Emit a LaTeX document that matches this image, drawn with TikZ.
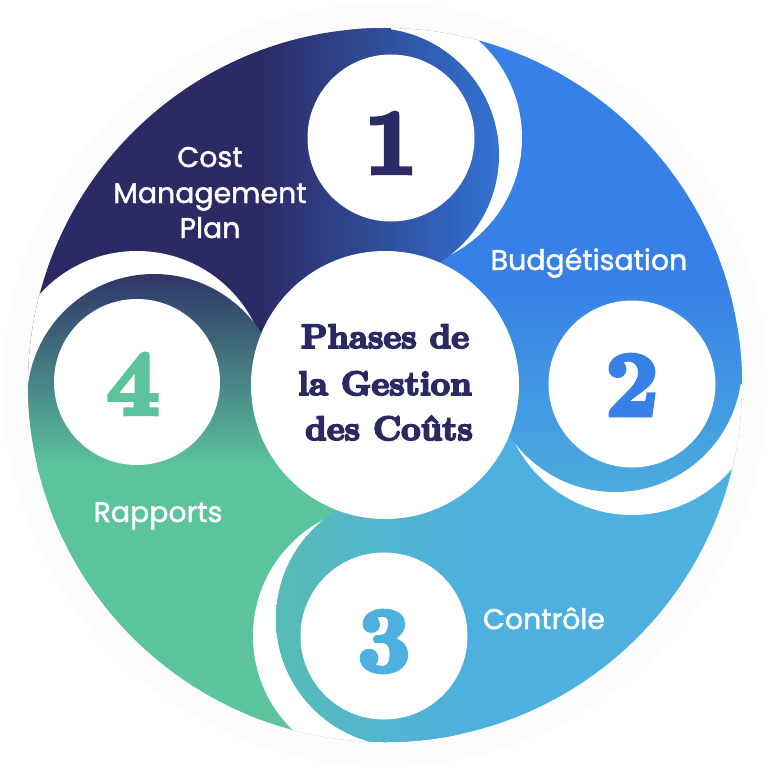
\documentclass[tikz,border=0pt]{standalone}
\usepackage{fontspec}
\newfontfamily\lblfont{Poppins}[FakeBold=1.5]
\newfontfamily\dispfont{lmroman10-bold.otf}[FakeBold=5.5]
\newfontfamily\digfont{lmroman10-bold.otf}[FakeBold=5]
\definecolor{navyA}{HTML}{2C2A64}
\definecolor{blueA}{HTML}{3473D4}
\definecolor{blueB}{HTML}{3780E8}
\definecolor{cyanB}{HTML}{4CADDD}
\definecolor{cyanC}{HTML}{4EB0DE}
\definecolor{tealC}{HTML}{58BCB4}
\definecolor{navyD}{HTML}{2E3266}
\definecolor{greenD}{HTML}{5CC49D}
\definecolor{halo}{RGB}{252,252,252}
\definecolor{inkN}{HTML}{2A2962}
\newcommand\paintSegA{\fill[navyA] (0,0) rectangle (262,768);
  \shade[left color=navyA,right color=blueA] (260,0) rectangle (502,768);
  \fill[blueA] (500,0) rectangle (768,768);}
\newcommand\paintSegB{\fill[blueB] (0,0) rectangle (768,282);
  \shade[top color=blueB,bottom color=cyanB] (0,280) rectangle (768,497);
  \fill[cyanB] (0,495) rectangle (768,768);}
\newcommand\paintSegC{\fill[cyanC] (0,0) rectangle (768,768);
  \fill[tealC] (0,0) rectangle (272,768);
  \shade[left color=tealC,right color=cyanC] (270,0) rectangle (462,768);}
\newcommand\paintSegD{\fill[navyD] (0,0) rectangle (768,272);
  \shade[top color=navyD,bottom color=greenD] (0,270) rectangle (768,467);
  \fill[greenD] (0,465) rectangle (768,768);}
\tikzset{
  lbl/.style={inner sep=0pt,anchor=base,text=white,font=\lblfont\fontsize{28.5}{34}\selectfont},
  digit/.style={inner sep=0pt,anchor=base,font=\digfont\fontsize{92}{92}\selectfont},
  ttl/.style={inner sep=0pt,anchor=base,text=inkN,font=\dispfont\fontsize{34}{40}\selectfont}
}
\begin{document}
\begin{tikzpicture}[x=1bp,y=-1bp]
\useasboundingbox (0,0) rectangle (768,768);
\coordinate (C) at (385,385);
\coordinate (c1) at (391,138);
\coordinate (c2) at (632,384);
\coordinate (c3) at (384,636);
\coordinate (c4) at (137,382);
\coordinate (b1) at (372,155);
\coordinate (b2) at (615,365);
\coordinate (b3) at (403,619);
\coordinate (b4) at (154,401);
% faint halo
\fill[halo] (C) circle[radius=382bp];
\begin{scope}
  \clip (C) circle[radius=357bp];
  % sectors
  \begin{scope}\clip (0,0) rectangle (391,382); \paintSegA \end{scope}
  \begin{scope}\clip (391,0) rectangle (768,384); \paintSegB \end{scope}
  \begin{scope}\clip (384,384) rectangle (768,768); \paintSegC \end{scope}
  \begin{scope}\clip (0,382) rectangle (384,768); \paintSegD \end{scope}
  % white gaps on the leading side of each bulge
  \begin{scope}\clip (391,0) rectangle (768,384); \fill[white] (c1) circle[radius=131bp]; \end{scope}
  \begin{scope}\clip (384,384) rectangle (768,768); \fill[white] (c2) circle[radius=131bp]; \end{scope}
  \begin{scope}\clip (0,384) rectangle (384,768); \fill[white] (c3) circle[radius=131bp]; \end{scope}
  \begin{scope}\clip (0,0) rectangle (385,382); \fill[white] (c4) circle[radius=131bp]; \end{scope}
  % bulges
  \begin{scope}\clip (b1) circle[radius=127bp]; \paintSegA \end{scope}
  \begin{scope}\clip (b2) circle[radius=127bp]; \paintSegB \end{scope}
  \begin{scope}\clip (b3) circle[radius=127bp]; \paintSegC \end{scope}
  \begin{scope}\clip (b4) circle[radius=127bp]; \paintSegD \end{scope}
  % white discs
  \fill[white] (c1) circle[radius=83.5bp];
  \fill[white] (c2) circle[radius=83.5bp];
  \fill[white] (c3) circle[radius=83.5bp];
  \fill[white] (c4) circle[radius=83bp];
  \fill[white] (C) circle[radius=134bp];
\end{scope}
% digits
\node[digit,text=navyA] (d1) at (391,173) {1};
\node[digit,text=blueB] (d2) at (632,415) {2};
\node[digit,text=cyanC] (d3) at (384,671) {3};
\node[digit,text=greenD] (d4) at (133,414) {4};
% labels
\node[lbl] (l1a) at (210,167) {Cost};
\node[lbl] (l1b) at (210,203) {Management};
\node[lbl] (l1c) at (210,238) {Plan};
\node[lbl] (l2) at (589,270) {Budgétisation};
\node[lbl] (l3) at (544,629) {Contrôle};
\node[lbl] (l4) at (158,522) {Rapports};
% title
\node[ttl] (t1) at (385,348) {Phases de};
\node[ttl] (t2) at (385,395) {la Gestion};
\node[ttl] (t3) at (389,440) {des Coûts};
\end{tikzpicture}
\end{document}
